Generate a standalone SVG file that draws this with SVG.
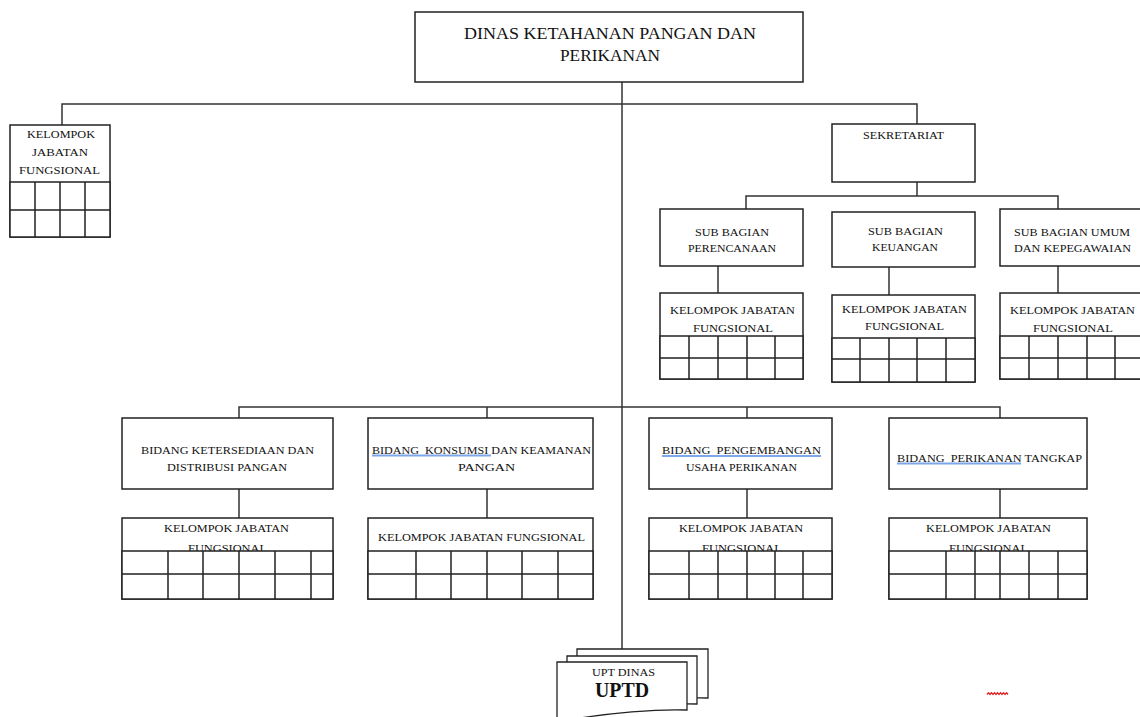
<svg xmlns="http://www.w3.org/2000/svg" width="1140" height="717" viewBox="0 0 1140 717">
<style>
  .box { fill: #fff; stroke: #222; stroke-width: 1.5; }
  .grid { fill: none; stroke: #222; stroke-width: 1.5; }
  .cell { fill: #fff; stroke: #222; stroke-width: 1.5; }
  .conn { fill: none; stroke: #333; stroke-width: 1.5; }
  .t { font-family: "Liberation Serif", "DejaVu Serif", serif; font-size: 10.5px; fill: #111; text-anchor: start; }
  .tl { font-family: "Liberation Serif", "DejaVu Serif", serif; font-size: 16px; fill: #111; }
  .ul { stroke: #7ea6ea; stroke-width: 2; fill: none; }
  .page { fill: #fff; stroke: #222; stroke-width: 1.3; }
</style>
<rect width="1140" height="717" fill="#fff"/>

<g id="connectors">
  <path class="conn" d="M622,82 V649"/>
  <path class="conn" d="M62,125 V104 H917 V124"/>
  <path class="conn" d="M917,182 V196 M746,209 V196 H1058 V209"/>
  <path class="conn" d="M718,266 V293 M889,267 V295 M1058,266 V293"/>
  <path class="conn" d="M239,418 V407 H1000 V418 M487,407 V418 M747,407 V418"/>
  <path class="conn" d="M239,489 V518 M487,489 V518 M747,489 V518 M1000,489 V518"/>
</g>

<g id="dinas">
  <rect class="box" x="415" y="12" width="388" height="70"/>
  <text class="tl" x="464" y="38.5" textLength="292" lengthAdjust="spacingAndGlyphs">DINAS KETAHANAN PANGAN DAN</text>
  <text class="tl" x="560" y="60.5" textLength="100" lengthAdjust="spacingAndGlyphs">PERIKANAN</text>
</g>

<g id="kjf-kiri">
  <rect class="box" x="10" y="125" width="100" height="112"/>
  <text class="t" x="27" y="138" textLength="68" lengthAdjust="spacingAndGlyphs">KELOMPOK</text>
  <text class="t" x="32" y="156" textLength="56" lengthAdjust="spacingAndGlyphs">JABATAN</text>
  <text class="t" x="19" y="174" textLength="81" lengthAdjust="spacingAndGlyphs">FUNGSIONAL</text>
  <rect class="cell" x="10" y="182" width="100" height="55"/>
  <path class="grid" d="M10,210 H110 M35,182 V237 M60,182 V237 M85,182 V237"/>
</g>

<g id="sekretariat">
  <rect class="box" x="832" y="124" width="143" height="58"/>
  <text class="t" x="863" y="139" textLength="81" lengthAdjust="spacingAndGlyphs">SEKRETARIAT</text>
</g>

<g id="sub-perencanaan">
  <rect class="box" x="660" y="209" width="143" height="57"/>
  <text class="t" x="695" y="236" textLength="74" lengthAdjust="spacingAndGlyphs">SUB BAGIAN</text>
  <text class="t" x="688" y="252" textLength="88" lengthAdjust="spacingAndGlyphs">PERENCANAAN</text>
</g>
<g id="sub-keuangan">
  <rect class="box" x="832" y="212" width="143" height="55"/>
  <text class="t" x="868" y="235" textLength="75" lengthAdjust="spacingAndGlyphs">SUB BAGIAN</text>
  <text class="t" x="872" y="251" textLength="66" lengthAdjust="spacingAndGlyphs">KEUANGAN</text>
</g>
<g id="sub-umum">
  <rect class="box" x="1000" y="209" width="145" height="57"/>
  <text class="t" x="1014" y="236" textLength="116" lengthAdjust="spacingAndGlyphs">SUB BAGIAN UMUM</text>
  <text class="t" x="1014" y="252" textLength="117" lengthAdjust="spacingAndGlyphs">DAN KEPEGAWAIAN</text>
</g>

<g id="kjf-perencanaan">
  <rect class="box" x="660" y="293" width="143" height="86"/>
  <text class="t" x="670" y="314" textLength="125" lengthAdjust="spacingAndGlyphs">KELOMPOK JABATAN</text>
  <text class="t" x="693" y="332" textLength="80" lengthAdjust="spacingAndGlyphs">FUNGSIONAL</text>
  <rect class="cell" x="660" y="336" width="143" height="43"/>
  <path class="grid" d="M660,358 H803 M689,336 V379 M718,336 V379 M747,336 V379 M775,336 V379"/>
</g>
<g id="kjf-keuangan">
  <rect class="box" x="832" y="295" width="143" height="87"/>
  <text class="t" x="842" y="313" textLength="125" lengthAdjust="spacingAndGlyphs">KELOMPOK JABATAN</text>
  <text class="t" x="865" y="330" textLength="79" lengthAdjust="spacingAndGlyphs">FUNGSIONAL</text>
  <rect class="cell" x="832" y="338" width="143" height="44"/>
  <path class="grid" d="M832,359 H975 M860,338 V382 M889,338 V382 M917,338 V382 M946,338 V382"/>
</g>
<g id="kjf-umum">
  <rect class="box" x="1000" y="293" width="145" height="86"/>
  <text class="t" x="1010" y="314" textLength="125" lengthAdjust="spacingAndGlyphs">KELOMPOK JABATAN</text>
  <text class="t" x="1033" y="332" textLength="80" lengthAdjust="spacingAndGlyphs">FUNGSIONAL</text>
  <rect class="cell" x="1000" y="336" width="145" height="43"/>
  <path class="grid" d="M1000,358 H1145 M1029,336 V379 M1058,336 V379 M1087,336 V379 M1115,336 V379"/>
</g>

<g id="bidang-ketersediaan">
  <rect class="box" x="122" y="418" width="211" height="71"/>
  <text class="t" x="141" y="454" textLength="173" lengthAdjust="spacingAndGlyphs">BIDANG KETERSEDIAAN DAN</text>
  <text class="t" x="167" y="471" textLength="120" lengthAdjust="spacingAndGlyphs">DISTRIBUSI PANGAN</text>
</g>
<g id="bidang-konsumsi">
  <rect class="box" x="368" y="418" width="225" height="71"/>
  <text class="t" x="372" y="454" textLength="219" lengthAdjust="spacingAndGlyphs" xml:space="preserve">BIDANG  KONSUMSI DAN KEAMANAN</text>
  <text class="t" x="458" y="471" textLength="57" lengthAdjust="spacingAndGlyphs">PANGAN</text>
  <path class="ul" d="M372,455.5 H491"/>
</g>
<g id="bidang-pengembangan">
  <rect class="box" x="649" y="418" width="183" height="71"/>
  <text class="t" x="662" y="454" textLength="159" lengthAdjust="spacingAndGlyphs" xml:space="preserve">BIDANG  PENGEMBANGAN</text>
  <text class="t" x="686" y="471" textLength="111" lengthAdjust="spacingAndGlyphs">USAHA PERIKANAN</text>
  <path class="ul" d="M662,456 H821"/>
</g>
<g id="bidang-tangkap">
  <rect class="box" x="889" y="418" width="198" height="71"/>
  <text class="t" x="897" y="462" textLength="185" lengthAdjust="spacingAndGlyphs" xml:space="preserve">BIDANG  PERIKANAN TANGKAP</text>
  <path class="ul" d="M897,463.5 H1021"/>
</g>

<g id="kjf-ketersediaan">
  <rect class="box" x="122" y="518" width="211" height="81"/>
  <text class="t" x="164" y="532" textLength="125" lengthAdjust="spacingAndGlyphs">KELOMPOK JABATAN</text>
  <text class="t" x="188" y="552" textLength="79" lengthAdjust="spacingAndGlyphs">FUNGSIONAL</text>
  <rect class="cell" x="122" y="551" width="211" height="48"/>
  <path class="grid" d="M122,574 H333 M168,551 V599 M203,551 V599 M239,551 V599 M275,551 V599 M311,551 V599"/>
</g>
<g id="kjf-konsumsi">
  <rect class="box" x="368" y="518" width="225" height="81"/>
  <text class="t" x="378" y="541" textLength="207" lengthAdjust="spacingAndGlyphs">KELOMPOK JABATAN FUNGSIONAL</text>
  <rect class="cell" x="368" y="551" width="225" height="48"/>
  <path class="grid" d="M368,574 H593 M416,551 V599 M451,551 V599 M487,551 V599 M522,551 V599 M558,551 V599"/>
</g>
<g id="kjf-pengembangan">
  <rect class="box" x="649" y="518" width="183" height="81"/>
  <text class="t" x="679" y="532" textLength="124" lengthAdjust="spacingAndGlyphs">KELOMPOK JABATAN</text>
  <text class="t" x="702" y="552" textLength="80" lengthAdjust="spacingAndGlyphs">FUNGSIONAL</text>
  <rect class="cell" x="649" y="551" width="183" height="48"/>
  <path class="grid" d="M649,574 H832 M689,551 V599 M718,551 V599 M747,551 V599 M775,551 V599 M803,551 V599"/>
</g>
<g id="kjf-tangkap">
  <rect class="box" x="889" y="518" width="198" height="81"/>
  <text class="t" x="926" y="532" textLength="125" lengthAdjust="spacingAndGlyphs">KELOMPOK JABATAN</text>
  <text class="t" x="949" y="552" textLength="79" lengthAdjust="spacingAndGlyphs">FUNGSIONAL</text>
  <rect class="cell" x="889" y="551" width="198" height="48"/>
  <path class="grid" d="M889,574 H1087 M946,551 V599 M975,551 V599 M1000,551 V599 M1029,551 V599 M1058,551 V599"/>
</g>

<g id="uptd">
  <path class="page" d="M577,649 H708 V698 C680,697 640,700 577,708 Z"/>
  <path class="page" d="M567,656 H697 V704 C670,703 625,706 567,714 Z"/>
  <path class="page" d="M557,662 H687 V710 C660,709 610,712 557,722 Z"/>
  <text x="592" y="676" textLength="63" lengthAdjust="spacingAndGlyphs" style="font-family:'Liberation Serif','DejaVu Serif',serif;font-size:9.5px;fill:#111">UPT DINAS</text>
  <text x="595" y="697" textLength="54" lengthAdjust="spacingAndGlyphs" style="font-family:'Liberation Serif','DejaVu Serif',serif;font-size:20px;font-weight:bold;fill:#111">UPTD</text>
</g>

<path d="M987,694.5 l1.5,-1.8 l1.5,1.8 l1.5,-1.8 l1.5,1.8 l1.5,-1.8 l1.5,1.8 l1.5,-1.8 l1.5,1.8 l1.5,-1.8 l1.5,1.8 l1.5,-1.8 l1.5,1.8 l1.5,-1.8 l1.5,1.8" fill="none" stroke="#e02020" stroke-width="1.3"/>
</svg>
